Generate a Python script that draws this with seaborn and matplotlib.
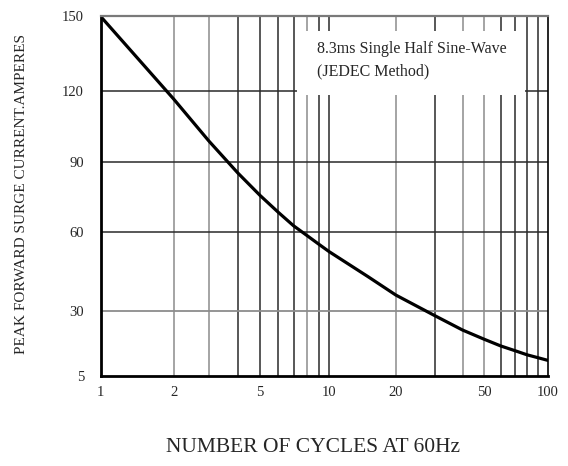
import matplotlib
matplotlib.use('Agg')

import numpy as np
import pandas as pd
import matplotlib.pyplot as plt
import seaborn as sns
from matplotlib.patches import Rectangle

# curve
cycles = [1, 2, 3, 4, 5, 6, 7, 8, 9, 10, 15, 20, 30, 40, 50, 60, 70, 80, 90, 100]
surge_amps = [150, 116.5, 98.8, 85.4, 75.8, 68.6, 62.8, 58.8, 55.5, 52.6, 43.0, 36.0,
              28.1, 22.6, 19.1, 16.5, 14.7, 13.1, 12.0, 11.0]

y_ticks = [5, 30, 60, 90, 120, 150]
x_ticks = [1, 2, 5, 10, 20, 50, 100]
x_grid = [2, 3, 4, 5, 6, 7, 8, 9, 10, 20, 30, 40, 50, 60, 70, 80, 90]
x_grid_light = [2, 3, 8, 20, 40, 50]

# the scanned graph is not evenly spaced, so pin the scales to where the ticks sit
y_frac = [0, 0.1816, 0.3997, 0.5953, 0.7936, 1.0]
x_anchor = [1, 2, 3, 5, 10, 20, 50, 100]
x_px = [0, 73, 108.3, 159.3, 228.6, 295.3, 383.6, 447.3]


def y_fwd(v):
    return np.interp(v, y_ticks, y_frac)


def y_inv(f):
    return np.interp(f, y_frac, y_ticks)


def x_fwd(x):
    return np.interp(np.log10(np.clip(x, 1e-9, None)), np.log10(x_anchor), x_px)


def x_inv(p):
    return 10 ** np.interp(p, x_px, np.log10(x_anchor))


sns.set_style("white")
plt.rcParams['font.family'] = ['Liberation Serif', 'DejaVu Serif']

df = pd.DataFrame({'cycles': cycles, 'amps': surge_amps})

fig = plt.figure(figsize=(5.68, 4.66), dpi=100)
ax = fig.add_axes([0.1773, 0.1931, 0.787, 0.7715])
ax.set_xscale('function', functions=(x_fwd, x_inv))
ax.set_yscale('function', functions=(y_fwd, y_inv))
ax.set_xlim(1, 100)
ax.set_ylim(5, 150)

for g in x_grid:
    c = '#8c8c8c' if g in x_grid_light else '#2a2a2a'
    ax.axvline(g, color=c, lw=1.1, zorder=1)
for t in [60, 90, 120]:
    ax.axhline(t, color='#2a2a2a', lw=1.1, zorder=1)
ax.axhline(30, color='#8c8c8c', lw=1.3, zorder=1)

# white label box sitting on the grid
ax.add_patch(Rectangle((0.439, 0.782), 0.51, 0.178, transform=ax.transAxes,
                       facecolor='white', edgecolor='none', zorder=2))
ax.text(0.484, 0.91, "8.3ms Single Half Sine-Wave", transform=ax.transAxes,
        fontsize=11.5, va='center', ha='left', zorder=3)
ax.text(0.484, 0.846, "(JEDEC Method)", transform=ax.transAxes,
        fontsize=11.5, va='center', ha='left', zorder=3)

sns.lineplot(data=df, x='cycles', y='amps', color='black', lw=2.3, ax=ax, zorder=4)

ax.set_xticks(x_ticks)
ax.set_xticklabels([str(t) for t in x_ticks])
ax.set_yticks(y_ticks)
ax.set_yticklabels([str(t) for t in y_ticks])
ax.minorticks_off()
ax.tick_params(length=0, labelsize=10.5)
ax.tick_params(axis='y', pad=12)
ax.tick_params(axis='x', pad=7)

ax.set_xlabel("NUMBER OF CYCLES AT 60Hz", fontsize=15.5)
ax.set_ylabel("PEAK FORWARD SURGE CURRENT.AMPERES", fontsize=11)
ax.xaxis.set_label_coords(0.474, -0.172)
ax.yaxis.set_label_coords(-0.162, 0.506)

for s in ['left', 'bottom']:
    ax.spines[s].set_linewidth(2)
    ax.spines[s].set_color('black')
ax.spines['top'].set_linewidth(1.6)
ax.spines['top'].set_color('#7a7a7a')
ax.spines['right'].set_linewidth(1.2)
ax.spines['right'].set_color('black')
for s in ax.spines.values():
    s.set_zorder(5)

fig.savefig("out.png", dpi=100)
